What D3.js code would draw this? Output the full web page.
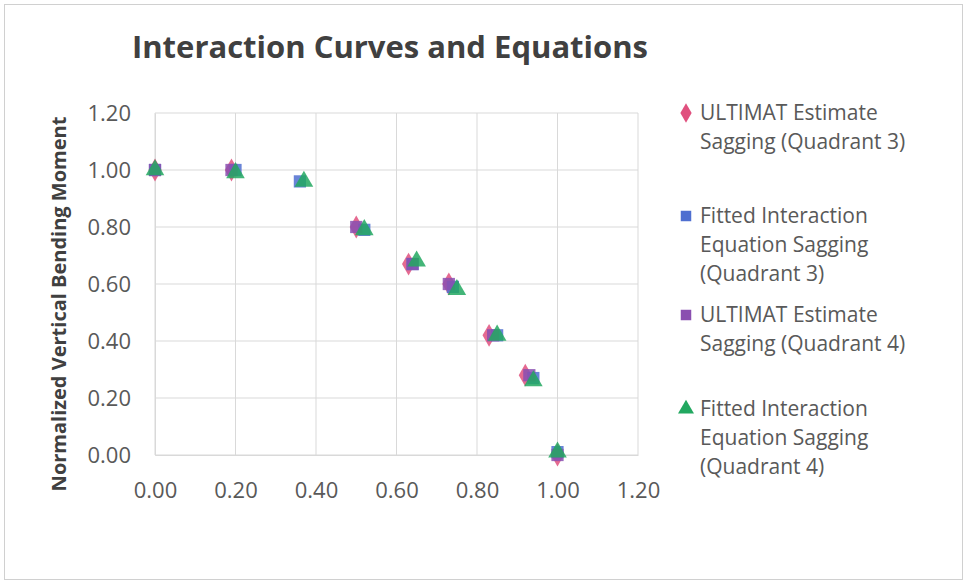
<!DOCTYPE html>
<html><head><meta charset="utf-8">
<script src="https://cdn.jsdelivr.net/npm/d3@7"></script>
<style>body{margin:0;background:#fff}svg{display:block}</style>
</head><body><svg id="c" width="964" height="582"></svg>
<script>
const title = "Interaction Curves and Equations";
const yTitle = "Normalized Vertical Bending Moment";
const xTicks = [0, 0.2, 0.4, 0.6, 0.8, 1.0, 1.2];
const yTicks = [0, 0.2, 0.4, 0.6, 0.8, 1.0, 1.2];
const seriesNames = [
  ["ULTIMAT Estimate", "Sagging (Quadrant 3)"],
  ["Fitted Interaction", "Equation Sagging", "(Quadrant 3)"],
  ["ULTIMAT Estimate", "Sagging (Quadrant 4)"],
  ["Fitted Interaction", "Equation Sagging", "(Quadrant 4)"]
];
const seriesColors = ["#e0507e", "#4f6fd0", "#8a4fb0", "#22a860"];
const seriesShapes = ["diamond", "square", "square", "triangle"];
const q3EstX = [0.00, 0.19, 0.50, 0.63, 0.73, 0.83, 0.92, 1.00];
const q3EstY = [1.00, 1.00, 0.80, 0.67, 0.60, 0.42, 0.28, 0.00];
const q3FitX = [0.00, 0.20, 0.36, 0.52, 0.64, 0.74, 0.85, 0.94, 1.00];
const q3FitY = [1.00, 1.00, 0.96, 0.79, 0.67, 0.59, 0.42, 0.27, 0.01];
const q4EstX = [0.00, 0.19, 0.50, 0.64, 0.73, 0.84, 0.93, 1.00];
const q4EstY = [1.00, 1.00, 0.80, 0.67, 0.60, 0.42, 0.28, 0.00];
const q4FitX = [0.00, 0.20, 0.37, 0.52, 0.65, 0.75, 0.85, 0.94, 1.00];
const q4FitY = [1.00, 0.99, 0.96, 0.79, 0.68, 0.58, 0.42, 0.26, 0.01];

const seriesX = [q3EstX, q3FitX, q4EstX, q4FitX];
const seriesY = [q3EstY, q3FitY, q4EstY, q4FitY];

const svg = d3.select("#c");
const font = "'Open Sans', 'DejaVu Sans', sans-serif";
svg.append("rect").attr("x", 4.5).attr("y", 4.5).attr("width", 958).attr("height", 575)
  .attr("fill", "#fff").attr("stroke", "#d0d0d0");

const L = 155, R = 638, T = 113, B = 455;
const x = d3.scaleLinear().domain([0, 1.2]).range([L, R]);
const y = d3.scaleLinear().domain([0, 1.2]).range([B, T]);

// grid
const g = svg.append("g");
g.selectAll("line.h").data(yTicks).join("line")
  .attr("x1", L).attr("x2", R).attr("y1", d => y(d)).attr("y2", d => y(d))
  .attr("stroke", "#d9d9d9").attr("stroke-width", 1);
g.selectAll("line.v").data(xTicks).join("line")
  .attr("x1", d => x(d)).attr("x2", d => x(d)).attr("y1", T).attr("y2", B)
  .attr("stroke", "#d9d9d9").attr("stroke-width", 1);

// axes
const xa = svg.append("g").attr("transform", `translate(0,${B})`)
  .call(d3.axisBottom(x).tickValues(xTicks).tickFormat(d3.format(".2f")).tickSize(0).tickPadding(27));
const ya = svg.append("g").attr("transform", `translate(${L},0)`)
  .call(d3.axisLeft(y).tickValues(yTicks).tickFormat(d3.format(".2f")).tickSize(0).tickPadding(24));
[xa, ya].forEach(a => {
  a.select(".domain").attr("stroke", "#d9d9d9");
  a.selectAll("text").attr("font-family", font).attr("font-size", 22).attr("fill", "#595959");
});

// title
svg.append("text").attr("x", 390).attr("y", 58).attr("text-anchor", "middle")
  .attr("font-family", font).attr("font-size", 31).attr("font-weight", "bold")
  .attr("fill", "#404040").text(title);
svg.append("text").attr("transform", `translate(66,${(T + B) / 2 + 20}) rotate(-90)`)
  .attr("text-anchor", "middle").attr("font-family", font).attr("font-size", 20)
  .attr("font-weight", "bold").attr("fill", "#404040").text(yTitle);

function sym(shape, size) {
  const t = shape === "diamond" ? d3.symbolDiamond : shape === "triangle" ? d3.symbolTriangle : d3.symbolSquare;
  return d3.symbol().type(t).size(size)();
}

seriesX.forEach((xs, i) => {
  svg.append("g").selectAll("path").data(xs.map((v, j) => [v, seriesY[i][j]])).join("path")
    .attr("d", sym(seriesShapes[i], 150))
    .attr("transform", d => `translate(${x(d[0])},${y(d[1])})`)
    .attr("fill", seriesColors[i]).attr("fill-opacity", 0.85);
});

// legend
const legStarts = [113, 216, 315, 409];
const lh = 29;
seriesNames.forEach((lines, i) => {
  const lg = svg.append("g");
  lg.append("path").attr("d", sym(seriesShapes[i], 110))
    .attr("transform", `translate(686,${legStarts[i]})`).attr("fill", seriesColors[i]);
  lg.selectAll("text").data(lines).join("text")
    .attr("x", 700).attr("y", (d, j) => legStarts[i] + j * lh + 7)
    .attr("font-family", font).attr("font-size", 21).attr("fill", "#595959").text(d => d);
});
</script></body></html>
